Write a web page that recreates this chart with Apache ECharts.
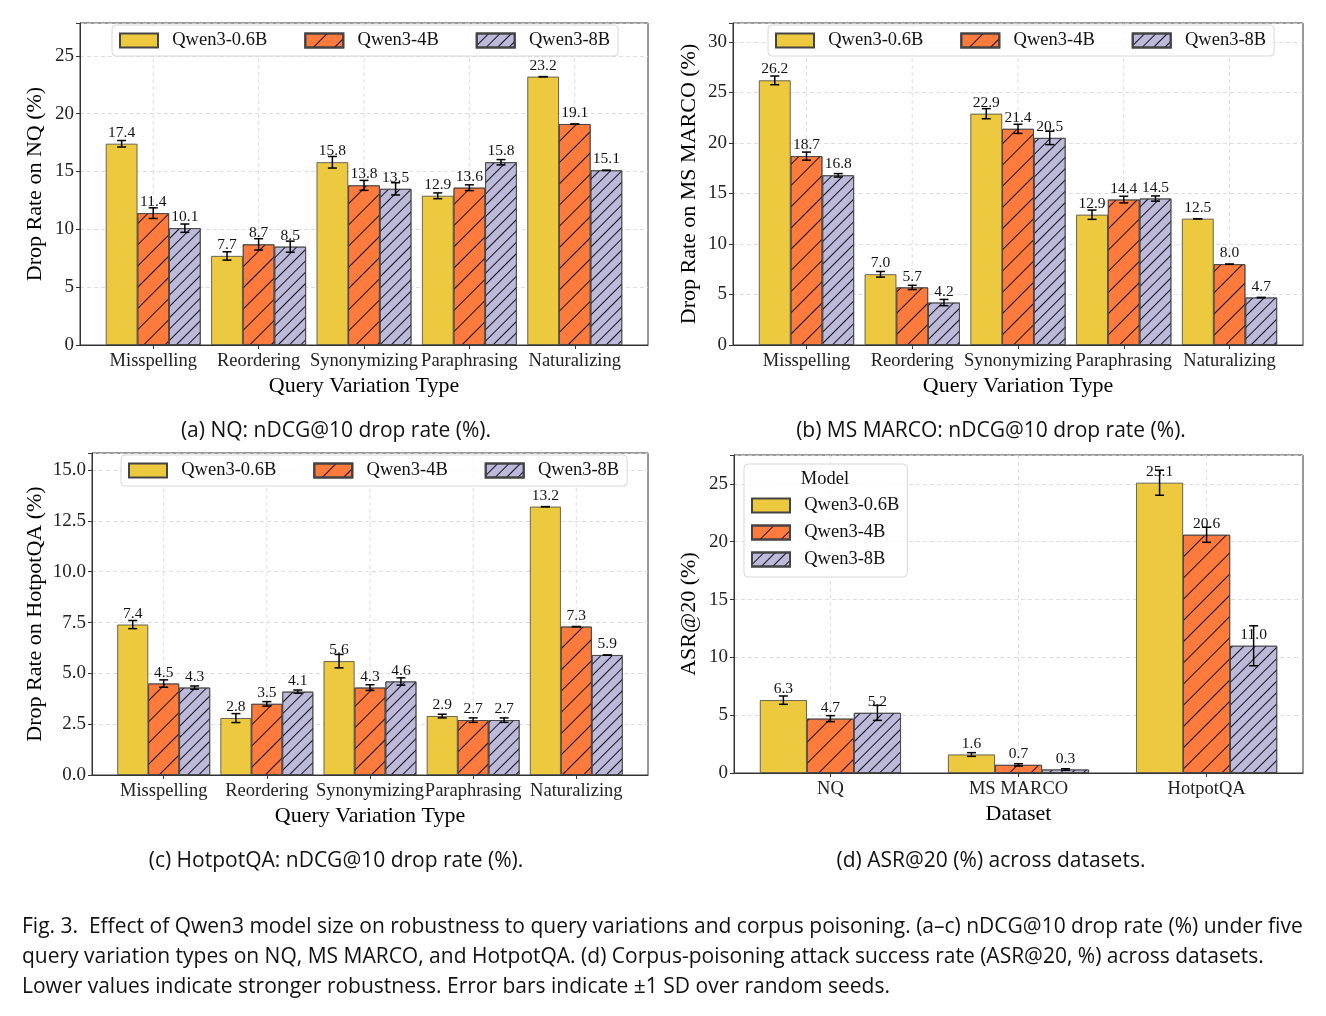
<!DOCTYPE html>
<html>
<head>
<meta charset="utf-8">
<script src="https://cdn.jsdelivr.net/npm/echarts@6/dist/echarts.min.js"></script>
<style>
  html, body { margin: 0; padding: 0; background: #fff; }
  #main { width: 1326px; height: 1016px; }
</style>
</head>
<body>
<div id="main"></div>
<script>
const models = ['Qwen3-0.6B', 'Qwen3-4B', 'Qwen3-8B'];
const variationTypes = ['Misspelling', 'Reordering', 'Synonymizing', 'Paraphrasing', 'Naturalizing'];
const datasets = ['NQ', 'MS MARCO', 'HotpotQA'];

// (a) NQ drop rate, one row per model
const nqDrop = [[17.4, 7.7, 15.8, 12.9, 23.2], [11.4, 8.7, 13.8, 13.6, 19.1], [10.1, 8.5, 13.5, 15.8, 15.1]];
const nqDropSd = [[0.28, 0.36, 0.5, 0.25, 0], [0.46, 0.49, 0.43, 0.25, 0], [0.36, 0.48, 0.53, 0.23, 0]];
// (b) MS MARCO drop rate
const msDrop = [[26.2, 7.0, 22.9, 12.9, 12.5], [18.7, 5.7, 21.4, 14.4, 8.0], [16.8, 4.2, 20.5, 14.5, 4.7]];
const msDropSd = [[0.43, 0.28, 0.5, 0.46, 0], [0.4, 0.21, 0.45, 0.33, 0], [0.17, 0.31, 0.66, 0.26, 0]];
// (c) HotpotQA drop rate
const hqDrop = [[7.4, 2.8, 5.6, 2.9, 13.2], [4.5, 3.5, 4.3, 2.7, 7.3], [4.3, 4.1, 4.6, 2.7, 5.9]];
const hqDropSd = [[0.2, 0.22, 0.33, 0.09, 0], [0.18, 0.11, 0.14, 0.11, 0], [0.08, 0.08, 0.18, 0.11, 0]];
// (d) ASR@20 per dataset
const asr = [[6.3, 1.6, 25.1], [4.7, 0.7, 20.6], [5.2, 0.3, 11.0]];
const asrSd = [[0.36, 0.16, 1.08], [0.26, 0.1, 0.65], [0.65, 0.07, 1.73]];

const SERIF = '"Liberation Serif", "Times New Roman", serif';
const SANS = '"Open Sans", Lato, sans-serif';
const colors = ['#EDC940', '#FE7A3D', '#BDB9DB'];
const decals = [
  null,
  { symbol: 'rect', symbolSize: 1, dashArrayX: [1, 0], dashArrayY: [1, 14], rotation: -Math.PI / 4, color: '#111' },
  { symbol: 'rect', symbolSize: 1, dashArrayX: [1, 0], dashArrayY: [1, 6.5], rotation: -Math.PI / 4, color: '#111' }
];

const panels = [
  { grid: { left: 80, top: 23, width: 568, height: 322 }, cats: variationTypes, vals: nqDrop, sds: nqDropSd,
    yMax: 27.84, yStep: 5, dec: 0, yName: 'Drop Rate on NQ (%)', yGap: 34, xName: 'Query Variation Type',
    barW: 0.3, xPad: 0.695, legend: { left: 112, top: 25 }, caption: '(a) NQ: nDCG@10 drop rate (%).', capX: 336, capY: 431 },
  { grid: { left: 733, top: 23, width: 570, height: 322 }, cats: variationTypes, vals: msDrop, sds: msDropSd,
    yMax: 31.88, yStep: 5, dec: 0, yName: 'Drop Rate on MS MARCO (%)', yGap: 33, xName: 'Query Variation Type',
    barW: 0.3, xPad: 0.695, legend: { left: 768, top: 25 }, caption: '(b) MS MARCO: nDCG@10 drop rate (%).', capX: 991, capY: 431 },
  { grid: { left: 92, top: 453, width: 556, height: 322 }, cats: variationTypes, vals: hqDrop, sds: hqDropSd,
    yMax: 15.84, yStep: 2.5, dec: 1, yName: 'Drop Rate on HotpotQA (%)', yGap: 46, xName: 'Query Variation Type',
    barW: 0.3, xPad: 0.695, legend: { left: 121, top: 455 }, caption: '(c) HotpotQA: nDCG@10 drop rate (%).', capX: 336, capY: 861 },
  { grid: { left: 734, top: 455, width: 569, height: 318 }, cats: datasets, vals: asr, sds: asrSd,
    yMax: 27.5, yStep: 5, dec: 0, yName: 'ASR@20 (%)', yGap: 34, xName: 'Dataset',
    barW: 0.25, xPad: 0.5125, legend: null, caption: '(d) ASR@20 (%) across datasets.', capX: 991, capY: 861 }
];

const grids = [], xAxes = [], yAxes = [], series = [], legends = [], graphics = [];

panels.forEach((p, pi) => {
  grids.push(Object.assign({ show: true, borderColor: '#333', borderWidth: 1, backgroundColor: 'transparent', containLabel: false, outerBoundsMode: 'none' }, p.grid));
  const idx = p.cats.map((c, i) => i);
  xAxes.push({
    type: 'value', gridIndex: pi, min: -p.xPad, max: p.cats.length - 1 + p.xPad,
    name: p.xName, nameLocation: 'middle', nameGap: 30,
    nameTextStyle: { fontFamily: SERIF, fontSize: 22, color: '#000' },
    axisLine: { show: true, onZero: false, lineStyle: { color: '#333', width: 1 } },
    axisTick: { show: true, inside: false, length: 4, customValues: idx, lineStyle: { color: '#333' } },
    axisLabel: { customValues: idx, margin: 7, fontFamily: SERIF, fontSize: 18.5, color: '#222',
      formatter: v => p.cats[Math.round(v)] },
    splitLine: { show: false }
  });
  yAxes.push({
    type: 'value', gridIndex: pi, min: 0, max: p.yMax, interval: p.yStep,
    name: p.yName, nameLocation: 'middle', nameGap: p.yGap, nameRotate: 90,
    nameTextStyle: { fontFamily: SERIF, fontSize: 22, color: '#000' },
    axisLine: { show: true, onZero: false, lineStyle: { color: '#333', width: 1 } },
    axisTick: { show: true, inside: false, length: 4, lineStyle: { color: '#333' } },
    axisLabel: { margin: 6, fontFamily: SERIF, fontSize: 19, color: '#222',
      formatter: v => (Math.abs(v / p.yStep - Math.round(v / p.yStep)) < 1e-6 ? v.toFixed(p.dec) : '') },
    splitLine: { show: true, lineStyle: { color: '#d4d4d4', width: 0.8, type: [4, 3] } }
  });

  // vertical dashed gridlines at category centres
  series.push({
    type: 'custom', xAxisIndex: pi, yAxisIndex: pi, z: 0, silent: true,
    data: idx.map(i => [i, 0]), encode: { x: 0, y: 1 },
    renderItem: (params, api) => {
      const pt = api.coord([api.value(0), 0]);
      const cs = params.coordSys;
      return { type: 'line', shape: { x1: pt[0], y1: cs.y, x2: pt[0], y2: cs.y + cs.height },
        style: { stroke: '#d4d4d4', lineWidth: 0.8, lineDash: [4, 3] } };
    }
  });

  models.forEach((m, k) => {
    const itemStyle = { color: colors[k], borderColor: '#444', borderWidth: 0.8 };
    if (decals[k]) itemStyle.decal = decals[k];
    series.push({
      type: 'bar', name: m, xAxisIndex: pi, yAxisIndex: pi, z: 2,
      barWidth: (p.barW * 100) + '%', barGap: '0%',
      data: p.vals[k].map((v, i) => [i, v]),
      itemStyle: itemStyle,
      label: { show: true, position: 'top', distance: 3, fontFamily: SERIF, fontSize: 15.5, color: '#111',
        formatter: d => d.value[1].toFixed(1) },
      emphasis: { disabled: true }
    });
    const offset = (k - 1) * p.barW;
    series.push({
      type: 'custom', xAxisIndex: pi, yAxisIndex: pi, z: 4, silent: true,
      data: p.vals[k].map((v, i) => [i, v, p.sds[k][i]]), encode: { x: 0, y: 1 },
      renderItem: (params, api) => {
        const x = api.value(0) + offset, v = api.value(1), sd = api.value(2);
        const hi = api.coord([x, v + sd]), lo = api.coord([x, v - sd]);
        const cap = 4.5;
        const st = () => ({ stroke: '#000', lineWidth: 1.5 });
        return { type: 'group', children: [
          { type: 'line', shape: { x1: hi[0], y1: hi[1], x2: lo[0], y2: lo[1] }, style: st() },
          { type: 'line', shape: { x1: hi[0] - cap, y1: hi[1], x2: hi[0] + cap, y2: hi[1] }, style: st() },
          { type: 'line', shape: { x1: lo[0] - cap, y1: lo[1], x2: lo[0] + cap, y2: lo[1] }, style: st() }
        ] };
      }
    });
  });

  if (p.legend) {
    legends.push({
      left: p.legend.left, top: p.legend.top, orient: 'horizontal', icon: 'rect',
      itemWidth: 38, itemHeight: 14, itemGap: 37, padding: [6, 8, 6, 7], selectedMode: false,
      backgroundColor: 'rgba(255,255,255,0.8)', borderColor: '#d8d8d8', borderWidth: 1, borderRadius: 4,
      textStyle: { fontFamily: SERIF, fontSize: 18.5, color: '#111' },
      formatter: n => '  ' + n, data: models, z: 10
    });
  }

  graphics.push({ type: 'text', x: p.capX, y: p.capY,
    style: { text: p.caption, font: '21px ' + SANS, fill: '#111', textAlign: 'center', textVerticalAlign: 'middle' } });
});

// legend of panel (d) with a title
legends.push({
  left: 744, top: 464, orient: 'vertical', icon: 'rect',
  itemWidth: 38, itemHeight: 14, itemGap: 8, padding: [32, 8, 8, 7], selectedMode: false,
  backgroundColor: 'rgba(255,255,255,0.8)', borderColor: '#d8d8d8', borderWidth: 1, borderRadius: 4,
  textStyle: { fontFamily: SERIF, fontSize: 18.5, color: '#111' },
  formatter: n => '  ' + n, data: models, z: 10
});
graphics.push({ type: 'text', x: 825, y: 479, z: 20,
  style: { text: 'Model', font: '18.5px ' + SERIF, fill: '#111', textAlign: 'center', textVerticalAlign: 'middle' } });

const captionLines = [
  'Fig. 3.  Effect of Qwen3 model size on robustness to query variations and corpus poisoning. (a\u2013c) nDCG@10 drop rate (%) under five',
  'query variation types on NQ, MS MARCO, and HotpotQA. (d) Corpus-poisoning attack success rate (ASR@20, %) across datasets.',
  'Lower values indicate stronger robustness. Error bars indicate \u00b11 SD over random seeds.'
];
captionLines.forEach((t, i) => {
  graphics.push({ type: 'text', x: 22, y: 927 + i * 30,
    style: { text: t, font: '21px ' + SANS, fill: '#111', textAlign: 'left', textVerticalAlign: 'middle' } });
});

const chart = echarts.init(document.getElementById('main'), null, { renderer: 'canvas' });
chart.setOption({
  backgroundColor: '#fff',
  animation: false,
  grid: grids,
  xAxis: xAxes,
  yAxis: yAxes,
  legend: legends,
  series: series,
  graphic: graphics
});
</script>
</body>
</html>
